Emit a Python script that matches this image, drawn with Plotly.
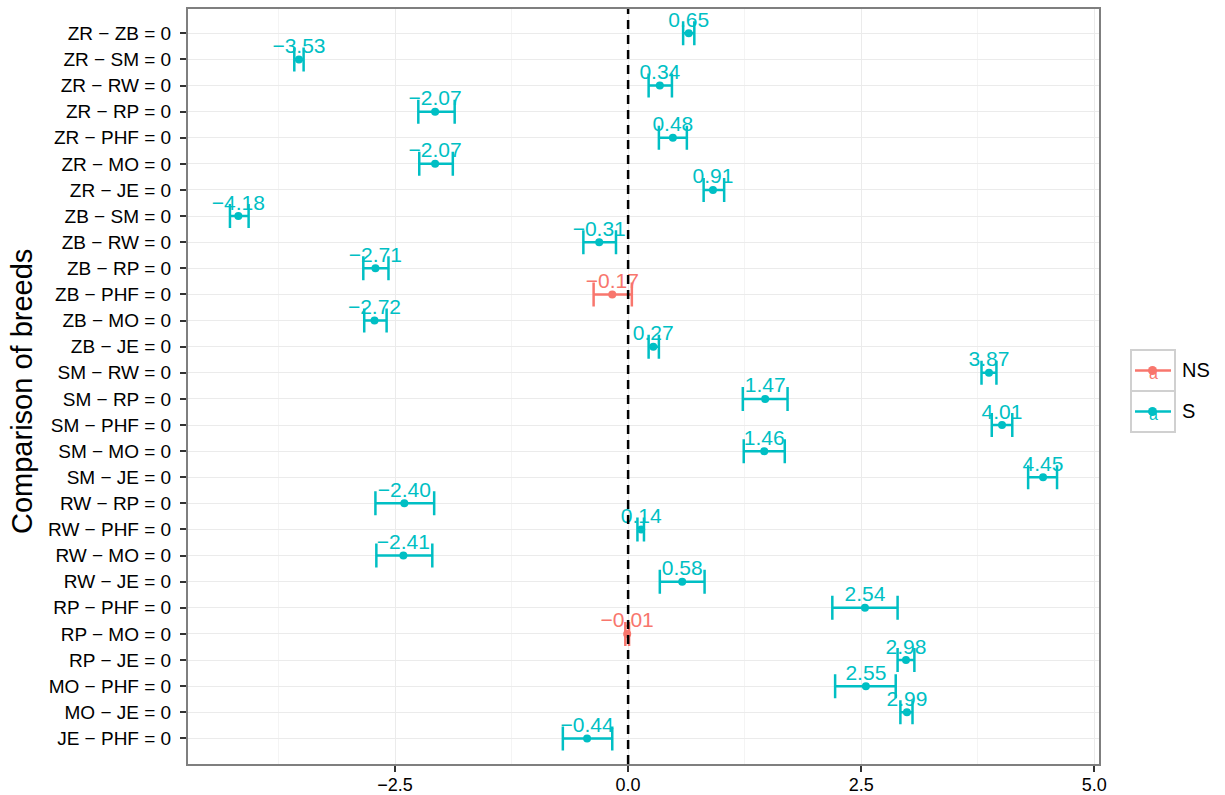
import plotly.graph_objects as go

M = "\u2212"
comparisons = ["ZR − ZB = 0", "ZR − SM = 0", "ZR − RW = 0", "ZR − RP = 0", "ZR − PHF = 0",
               "ZR − MO = 0", "ZR − JE = 0", "ZB − SM = 0", "ZB − RW = 0", "ZB − RP = 0",
               "ZB − PHF = 0", "ZB − MO = 0", "ZB − JE = 0", "SM − RW = 0", "SM − RP = 0",
               "SM − PHF = 0", "SM − MO = 0", "SM − JE = 0", "RW − RP = 0", "RW − PHF = 0",
               "RW − MO = 0", "RW − JE = 0", "RP − PHF = 0", "RP − MO = 0", "RP − JE = 0",
               "MO − PHF = 0", "MO − JE = 0", "JE − PHF = 0"]
estimate = [0.65, -3.53, 0.34, -2.07, 0.48, -2.07, 0.91, -4.18, -0.31, -2.71,
            -0.17, -2.72, 0.27, 3.87, 1.47, 4.01, 1.46, 4.45, -2.40, 0.14,
            -2.41, 0.58, 2.54, -0.01, 2.98, 2.55, 2.99, -0.44]
lower = [0.59, -3.58, 0.22, -2.25, 0.33, -2.24, 0.81, -4.27, -0.48, -2.84,
         -0.37, -2.83, 0.22, 3.79, 1.23, 3.90, 1.24, 4.29, -2.71, 0.10,
         -2.70, 0.34, 2.19, -0.03, 2.89, 2.22, 2.92, -0.70]
upper = [0.71, -3.48, 0.47, -1.86, 0.63, -1.88, 1.03, -4.07, -0.13, -2.57,
         0.04, -2.59, 0.33, 3.95, 1.71, 4.12, 1.68, 4.60, -2.08, 0.17,
         -2.10, 0.82, 2.89, 0.01, 3.07, 2.87, 3.05, -0.17]
signif = ["S", "S", "S", "S", "S", "S", "S", "S", "S", "S",
          "NS", "S", "S", "S", "S", "S", "S", "S", "S", "S",
          "S", "S", "S", "NS", "S", "S", "S", "S"]
groups = ["NS", "S"]
colors = {"NS": "#F8766D", "S": "#00BFC4"}
x_ticks = [-2.5, 0.0, 2.5, 5.0]

n = len(comparisons)
ypos = [n - i for i in range(n)]
FONT = "Liberation Sans, Arial, Helvetica, sans-serif"

fig = go.Figure()
for g in groups:
    idx = [i for i in range(n) if signif[i] == g]
    fig.add_trace(go.Scatter(
        x=[estimate[i] for i in idx], y=[ypos[i] for i in idx], mode="markers",
        marker=dict(color=colors[g], size=8),
        error_x=dict(type="data", symmetric=False,
                     array=[upper[i] - estimate[i] for i in idx],
                     arrayminus=[estimate[i] - lower[i] for i in idx],
                     color=colors[g], thickness=2.5, width=12),
        showlegend=False, hoverinfo="skip"))
for g in groups:
    idx = [i for i in range(n) if signif[i] == g]
    fig.add_trace(go.Scatter(
        x=[estimate[i] for i in idx], y=[ypos[i] + 0.45 for i in idx], mode="text",
        text=[f"{estimate[i]:.2f}".replace("-", M) for i in idx],
        textposition="middle center",
        textfont=dict(color=colors[g], size=21, family=FONT),
        showlegend=False, hoverinfo="skip"))

# reference line
fig.add_shape(type="line", x0=0, x1=0, y0=0, y1=1, xref="x", yref="paper",
              line=dict(color="black", width=2.5, dash="9px,6px"), layer="above")

L, R, T, B = 188, 1099, 9, 764
def px(xp):
    return (xp - L) / (R - L)
def py(yp):
    return (B - yp) / (B - T)

# manual legend
keys = [("NS", 350, 391), ("S", 391, 432)]
for g, y0, y1 in keys:
    c = colors[g]
    yc = (y0 + y1) / 2
    fig.add_shape(type="rect", xref="paper", yref="paper", x0=px(1131), x1=px(1175),
                  y0=py(y1), y1=py(y0), line=dict(color="#d0d0d0", width=2), fillcolor="white")
    fig.add_shape(type="line", xref="paper", yref="paper", x0=px(1135), x1=px(1171),
                  y0=py(yc), y1=py(yc), line=dict(color=c, width=2.5))
    fig.add_shape(type="circle", xref="paper", yref="paper", x0=px(1148), x1=px(1157),
                  y0=py(yc + 4.5), y1=py(yc - 4.5), line=dict(color=c, width=0), fillcolor=c)
    fig.add_annotation(x=px(1153), y=py(yc + 3), xref="paper", yref="paper", text="a",
                       showarrow=False, font=dict(color=c, size=16, family=FONT),
                       xanchor="center", yanchor="middle")
    fig.add_annotation(x=px(1180), y=py(yc), xref="paper", yref="paper", text=g,
                       showarrow=False, font=dict(color="black", size=20, family=FONT),
                       xanchor="left", yanchor="middle")

fig.add_annotation(x=px(22), y=py(392), xref="paper", yref="paper", text="Comparison of breeds",
                   textangle=-90, showarrow=False, font=dict(color="black", size=29, family=FONT),
                   xanchor="center", yanchor="middle")

fig.update_xaxes(range=[-4.72, 5.05], tickvals=x_ticks,
                 ticktext=[f"{v:.1f}".replace("-", M) for v in x_ticks],
                 showgrid=True, gridcolor="#ebebeb", gridwidth=1.2, zeroline=False,
                 minor=dict(tickvals=[-3.75, -1.25, 1.25, 3.75], showgrid=True,
                            gridcolor="#f4f4f4", gridwidth=1, ticks=""),
                 ticks="outside", ticklen=6, tickwidth=2, tickcolor="#333333",
                 ticklabelstandoff=-3,
                 tickfont=dict(size=18, color="black", family=FONT),
                 showline=True, mirror=True, linecolor="#7f7f7f", linewidth=2)
fig.update_yaxes(range=[0.02, 28.93], tickvals=ypos, ticktext=comparisons,
                 showgrid=True, gridcolor="#ebebeb", gridwidth=1.2, zeroline=False,
                 ticks="outside", ticklen=6, tickwidth=2, tickcolor="#333333",
                 ticklabelstandoff=5,
                 tickfont=dict(size=19, color="black", family=FONT),
                 showline=True, mirror=True, linecolor="#7f7f7f", linewidth=2)
fig.update_layout(width=1225, height=795, plot_bgcolor="white", paper_bgcolor="white",
                  margin=dict(l=L, r=1225 - R, t=T, b=795 - B, autoexpand=False),
                  showlegend=False)
fig.write_html("out.html", config={"displayModeBar": False},
               post_script="document.body.style.margin='0';document.body.style.overflow='hidden';")
